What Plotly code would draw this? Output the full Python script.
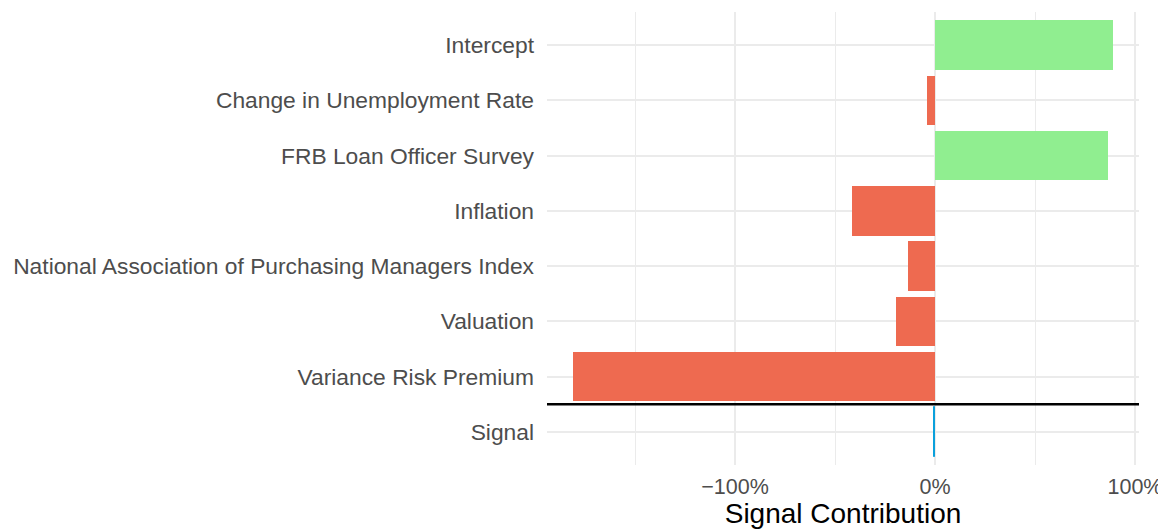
import plotly.graph_objects as go

# Data (top to bottom)
categories = [
    "Intercept",
    "Change in Unemployment Rate",
    "FRB Loan Officer Survey",
    "Inflation",
    "National Association of Purchasing Managers Index",
    "Valuation",
    "Variance Risk Premium",
    "Signal",
]
contributions = [0.89, -0.04, 0.865, -0.415, -0.135, -0.195, -1.81, -0.004]

x_tickvals = [-1.0, 0.0, 1.0]
x_ticktext = ["\u2212100%", "0%", "100%"]
x_minor_vals = [-1.5, -0.5, 0.5]

POS = "#90EE90"
NEG = "#EE6A50"
SIG = "#0AA0DC"

n = len(categories)
ypos = [n - i for i in range(n)]  # Intercept at top

colors = []
for c, v in zip(categories, contributions):
    if c == "Signal":
        colors.append(SIG)
    elif v >= 0:
        colors.append(POS)
    else:
        colors.append(NEG)

fig = go.Figure()
fig.add_trace(go.Bar(
    x=contributions,
    y=ypos,
    orientation="h",
    width=0.9,
    marker=dict(color=colors, line=dict(width=[0] * (n - 1) + [1], color=colors)),
    hoverinfo="x+text",
    text=categories,
    textposition="none",
))

# separator line between components and signal
fig.add_shape(type="line", xref="paper", x0=0, x1=1, yref="y", y0=1.5, y1=1.5,
              line=dict(color="black", width=2.5), layer="above")

FONT = "Liberation Sans, Arial, Helvetica, sans-serif"

fig.update_layout(
    width=1158, height=531,
    margin=dict(l=547, r=19, t=12, b=66),
    plot_bgcolor="white", paper_bgcolor="white",
    showlegend=False,
    bargap=0,
    font=dict(family=FONT, color="#4D4D4D", size=21),
    xaxis=dict(
        range=[-1.94, 1.02],
        automargin=False,
        tickmode="array", tickvals=x_tickvals, ticktext=x_ticktext,
        showgrid=True, gridcolor="#EBEBEB", gridwidth=2,
        minor=dict(tickmode="array", tickvals=x_minor_vals, showgrid=True,
                   gridcolor="#EBEBEB", gridwidth=1.3),
        zeroline=False, showline=False,
        ticks="", ticklabelstandoff=6,
        ticklabeloverflow="allow",
        tickfont=dict(size=21.5, color="#4D4D4D"),
        title=dict(text="Signal Contribution", font=dict(size=28, color="black"),
                   standoff=3),
        fixedrange=True,
    ),
    yaxis=dict(
        range=[0.4, n + 0.6],
        automargin=False,
        tickmode="array", tickvals=ypos, ticktext=categories,
        showgrid=True, gridcolor="#EBEBEB", gridwidth=2,
        zeroline=False, showline=False,
        ticks="", ticklabelstandoff=12,
        tickfont=dict(size=22.8, color="#4D4D4D"),
        fixedrange=True,
    ),
)

fig.write_html(
    "out.html",
    config={"displayModeBar": False},
    post_script="document.body.style.margin='0';document.body.style.overflow='hidden';",
)
